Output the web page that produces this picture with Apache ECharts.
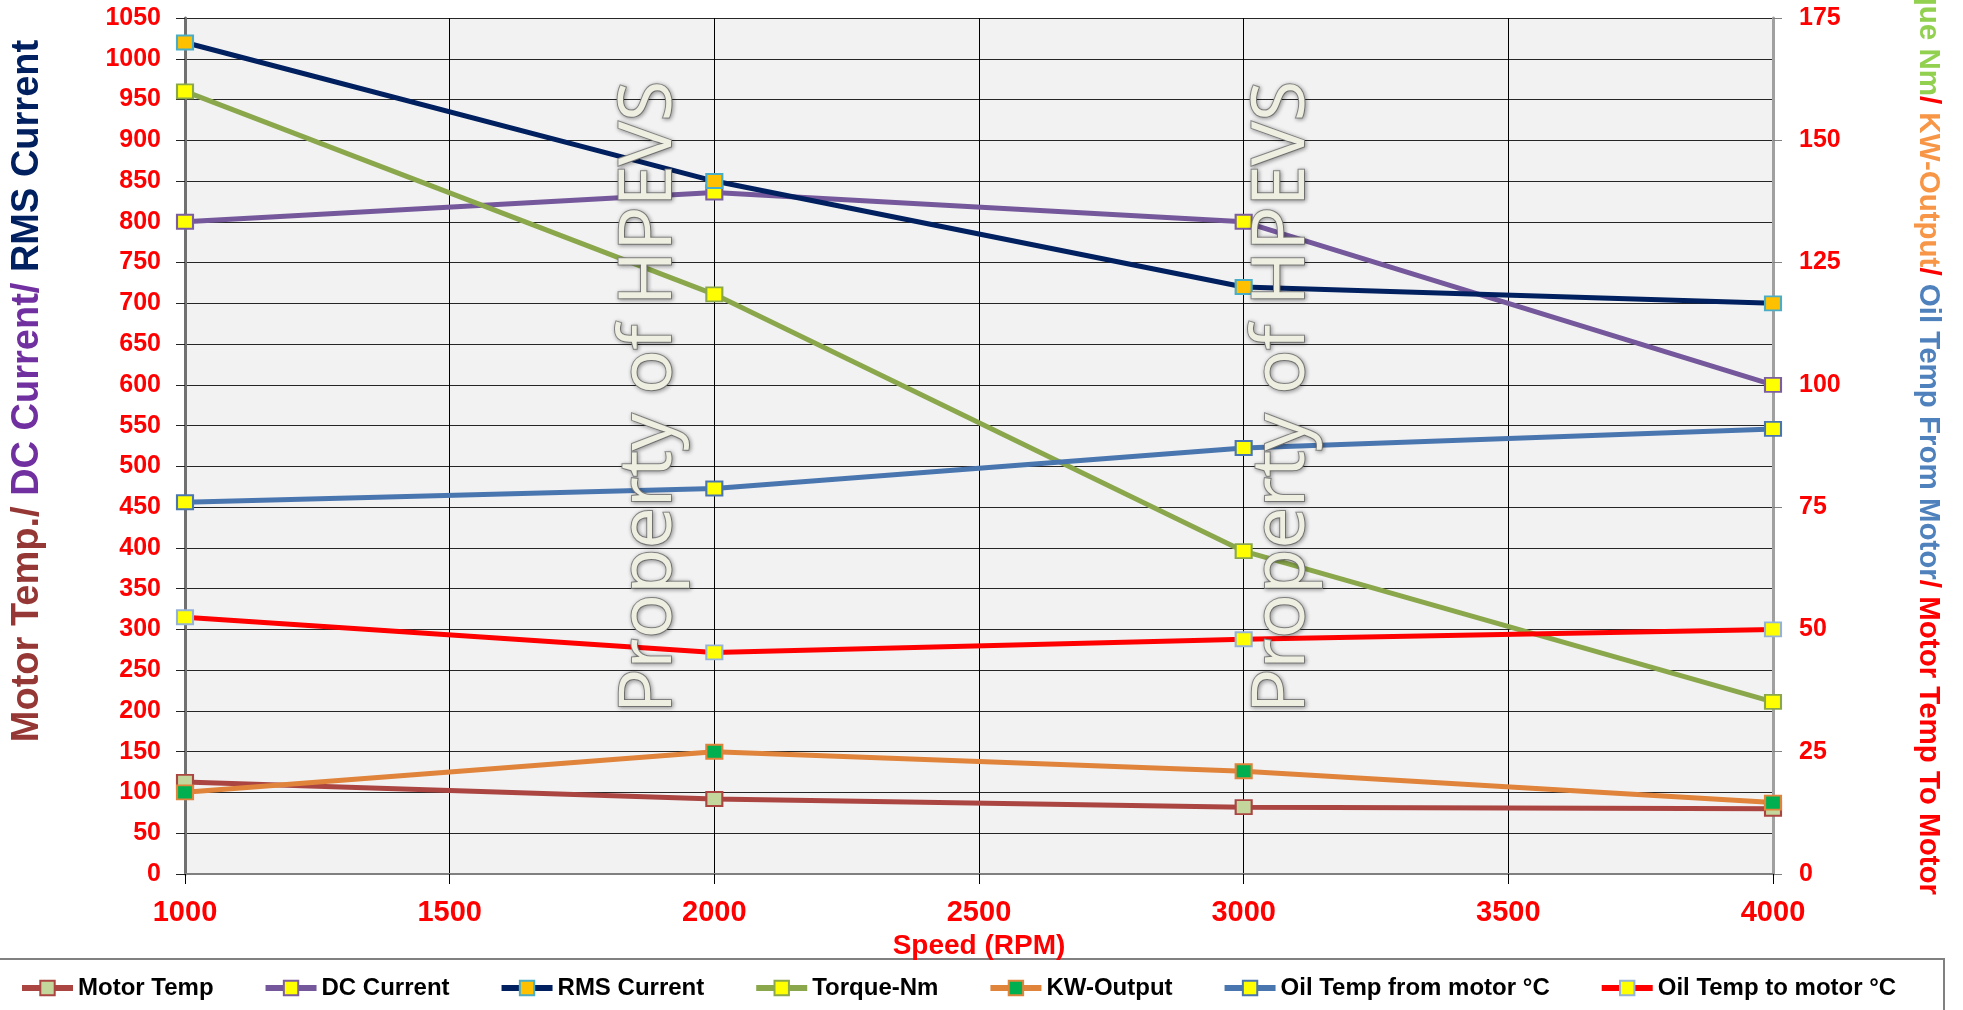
<!DOCTYPE html>
<html>
<head>
<meta charset="utf-8">
<script src="https://cdn.jsdelivr.net/npm/echarts@6/dist/echarts.min.js"></script>
<style>
  html, body { margin: 0; padding: 0; background: #fff; }
  #chart { width: 1963px; height: 1010px; }
</style>
</head>
<body>
<div id="chart"></div>
<script>
// speeds on the x axis (RPM)
const speeds = [1000, 2000, 3000, 4000]
// left axis series
const motorTemp = [113, 92, 82, 80]
const dcCurrent = [800, 836, 800, 600]
const rmsCurrent = [1020, 850, 720, 700]
// right axis series
const torqueNm = [160, 118.5, 66, 35.2]
const kwOutput = [16.7, 25, 21, 14.6]
const oilTempFrom = [76, 78.8, 87.1, 91]
const oilTempTo = [52.5, 45.3, 48, 50]

const font = 'Liberation Sans, Arial, sans-serif'
const myChart = echarts.init(document.getElementById('chart'))

// one line series with square markers
const mkSeries = (name, values, axis, lineColor, fill, border) => ({
  name: name,
  type: 'line',
  yAxisIndex: axis,
  data: speeds.map((s, i) => [s, values[i]]),
  symbol: 'rect',
  symbolSize: [16, 14],
  lineStyle: { color: lineColor, width: 5 },
  itemStyle: { color: fill, borderColor: border, borderWidth: 2 },
  emphasis: { disabled: true }
})

// watermark text
const watermark = (x) => ({
  type: 'text',
  x: x,
  y: 397,
  rotation: Math.PI / 2,
  z: 100,
  silent: true,
  style: {
    text: 'Property of HPEVS',
    font: '74px "Open Sans"',
    fill: '#EEEFE1',
    stroke: '#8C8C8C',
    lineWidth: 2,
    align: 'center',
    verticalAlign: 'middle',
    textShadowColor: 'rgba(0,0,0,0.35)',
    textShadowBlur: 4,
    textShadowOffsetX: 1,
    textShadowOffsetY: 1
  }
})

const plain = (v) => String(v)

const option = {
  animation: false,
  backgroundColor: '#fff',
  grid: {
    left: 185,
    right: 190,
    top: 18,
    bottom: 136,
    show: true,
    backgroundColor: '#F2F2F2',
    borderWidth: 0
  },
  legend: {
    left: 19,
    top: 976,
    padding: 0,
    itemWidth: 51,
    itemHeight: 18,
    itemGap: 49,
    lineStyle: { width: 6 },
    textStyle: { fontFamily: font, fontWeight: 'bold', fontSize: 24, color: '#000' }
  },
  xAxis: {
    type: 'value',
    min: 1000,
    max: 4000,
    interval: 500,
    name: 'Speed (RPM)',
    nameLocation: 'middle',
    nameGap: 46,
    nameTextStyle: { color: '#FF0000', fontFamily: font, fontWeight: 'bold', fontSize: 28 },
    axisLine: { show: true, lineStyle: { color: '#808080', width: 2 } },
    axisTick: { show: true, length: 10, lineStyle: { color: '#000', width: 1 } },
    axisLabel: { color: '#FF0000', fontFamily: font, fontWeight: 'bold', fontSize: 29, margin: 24, formatter: plain },
    splitLine: { show: true, lineStyle: { color: '#000', width: 1 } }
  },
  yAxis: [
    {
      type: 'value',
      min: 0,
      max: 1050,
      interval: 50,
      position: 'left',
      axisLine: { show: true, lineStyle: { color: '#707070', width: 3 } },
      axisTick: { show: true, length: 9, lineStyle: { color: '#222', width: 1 } },
      axisLabel: { color: '#FF0000', fontFamily: font, fontWeight: 'bold', fontSize: 25, margin: 24, formatter: plain },
      splitLine: { show: true, lineStyle: { color: '#262626', width: 1 } }
    },
    {
      type: 'value',
      min: 0,
      max: 175,
      interval: 25,
      position: 'right',
      axisLine: { show: true, lineStyle: { color: '#A0A0A0', width: 3 } },
      axisTick: { show: true, length: 9, lineStyle: { color: '#808080', width: 1 } },
      axisLabel: { color: '#FF0000', fontFamily: font, fontWeight: 'bold', fontSize: 25, margin: 26, formatter: plain },
      splitLine: { show: false }
    }
  ],
  graphic: [
    // legend frame
    {
      type: 'rect',
      shape: { x: -5, y: 959, width: 1949, height: 60 },
      style: { fill: 'none', stroke: '#808080', lineWidth: 2 },
      silent: true
    },
    // left axis title
    {
      type: 'text',
      x: 28,
      y: 391,
      rotation: Math.PI / 2,
      style: {
        text: '{a|Motor Temp./} {b|DC Current/} {c|RMS Current}',
        font: 'bold 38px ' + font,
        align: 'center',
        verticalAlign: 'middle',
        rich: {
          a: { fill: '#953735', font: 'bold 38px ' + font },
          b: { fill: '#7030A0', font: 'bold 38px ' + font },
          c: { fill: '#002060', font: 'bold 38px ' + font }
        }
      }
    },
    // right axis title, runs off the top like the original
    {
      type: 'text',
      x: 1928,
      y: 895,
      rotation: -Math.PI / 2,
      style: {
        text: '{g|Torque Nm}{r|/ }{o|KW-Output}{r|/ }{b|Oil Temp From Motor}{r|/ Motor Temp To Motor}',
        font: 'bold 29.5px ' + font,
        align: 'right',
        verticalAlign: 'middle',
        rich: {
          g: { fill: '#92D050', font: 'bold 29.5px ' + font },
          o: { fill: '#F79646', font: 'bold 29.5px ' + font },
          b: { fill: '#4F81BD', font: 'bold 29.5px ' + font },
          r: { fill: '#FF0000', font: 'bold 29.5px ' + font }
        }
      }
    },
    watermark(650),
    watermark(1283)
  ],
  series: [
    mkSeries('Motor Temp', motorTemp, 0, '#AA4542', '#C3D69B', '#AA4542'),
    mkSeries('DC Current', dcCurrent, 0, '#75589B', '#FFFF00', '#7B5EA0'),
    mkSeries('RMS Current', rmsCurrent, 0, '#002060', '#FFC000', '#4BACC6'),
    mkSeries('Torque-Nm', torqueNm, 1, '#8AA84B', '#FFFF00', '#8AA84B'),
    mkSeries('KW-Output', kwOutput, 1, '#E0833B', '#00B050', '#E0833B'),
    mkSeries('Oil Temp from motor °C', oilTempFrom, 1, '#4A76B0', '#FFFF00', '#4A76B0'),
    mkSeries('Oil Temp to motor °C', oilTempTo, 1, '#FF0000', '#FFFF00', '#95B3D7')
  ]
}

myChart.setOption(option)
</script>
</body>
</html>
